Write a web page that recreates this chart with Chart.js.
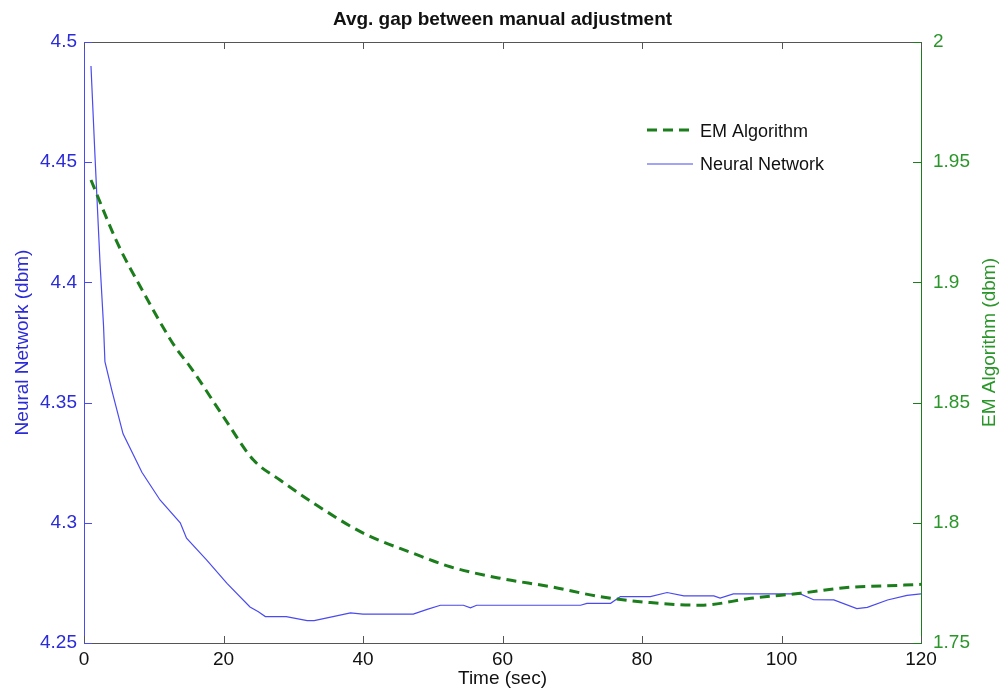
<!DOCTYPE html>
<html>
<head>
<meta charset="utf-8">
<script src="https://cdn.jsdelivr.net/npm/chart.js@4"></script>
<style>
  body { margin: 0; background: #fff; }
  #wrap { width: 1005px; height: 693px; position: relative; }
</style>
</head>
<body>
<div id="wrap"><canvas id="myChart"></canvas></div>
<script>
// values
const emTime = [1, 4.8, 8.6, 11.4, 13.2, 15.2, 20, 24.3, 28.1, 32.9, 40.1, 47.2, 52.5, 59.7, 66.9, 74, 81.2, 88.4, 95.6, 102.7, 109.9, 114.6, 120];
const emValues = [1.9426, 1.9163, 1.8955, 1.881, 1.8726, 1.865, 1.8441, 1.8261, 1.8178, 1.8082, 1.7956, 1.7873, 1.7817, 1.7769, 1.7734, 1.7693, 1.7668, 1.7657, 1.7686, 1.7707, 1.7732, 1.7737, 1.7744];

const nnTime = [1, 1.6, 2.3, 2.8, 3.0, 4, 5.6, 8.3, 10.9, 13.8, 14.7, 17.6, 20.5, 23.8, 25, 26, 29, 32, 33, 35.7, 38.2, 40, 47.2, 49.2, 51.1, 54.4, 55.4, 56.3, 71.2, 72.1, 75.5, 76.9, 81.2, 83.6, 86, 90.3, 91.2, 93.1, 102.7, 104.6, 107.5, 110.8, 112.3, 115.2, 118, 120];
const nnValues = [4.490, 4.451, 4.408, 4.382, 4.367, 4.355, 4.337, 4.321, 4.3095, 4.300, 4.2936, 4.2845, 4.2748, 4.265, 4.263, 4.261, 4.261, 4.2593, 4.2593, 4.261, 4.2625, 4.262, 4.262, 4.264, 4.2657, 4.2657, 4.2646, 4.2657, 4.2657, 4.2665, 4.2665, 4.2693, 4.2693, 4.271, 4.2696, 4.2696, 4.2687, 4.2704, 4.2704, 4.268, 4.2679, 4.2643, 4.2648, 4.2679, 4.2698, 4.2704];

const xTicks = [0, 20, 40, 60, 80, 100, 120];
const leftRange = [4.25, 4.5];
const rightRange = [1.75, 2];

const blue = "#4a4af0";
const blueText = "#2b2bd8";
const green = "#1b7d1b";
const greenText = "#2a962a";
const frame = "#555";

Chart.defaults.font.family = "'Liberation Sans', Arial, sans-serif";
Chart.defaults.font.size = 19;

const fmt = (v) => String(+Number(v).toFixed(2));

// inward tick marks, top frame line, right axis title and the legend
const extras = {
  id: "extras",
  afterDraw(chart) {
    const ctx = chart.ctx;
    const a = chart.chartArea;
    const sx = chart.scales.x, sl = chart.scales.yL, sr = chart.scales.yR;
    ctx.save();
    ctx.lineWidth = 1;
    ctx.strokeStyle = frame;
    ctx.beginPath();
    ctx.moveTo(a.left, a.top + 0.5);
    ctx.lineTo(a.right, a.top + 0.5);
    sx.ticks.forEach((t) => {
      const px = Math.round(sx.getPixelForValue(t.value)) + 0.5;
      ctx.moveTo(px, a.bottom);
      ctx.lineTo(px, a.bottom - 7);
      ctx.moveTo(px, a.top);
      ctx.lineTo(px, a.top + 7);
    });
    ctx.stroke();
    ctx.strokeStyle = blue;
    ctx.beginPath();
    sl.ticks.forEach((t) => {
      const py = Math.round(sl.getPixelForValue(t.value)) + 0.5;
      ctx.moveTo(a.left, py);
      ctx.lineTo(a.left + 8, py);
    });
    ctx.stroke();
    ctx.strokeStyle = green;
    ctx.beginPath();
    sr.ticks.forEach((t) => {
      const py = Math.round(sr.getPixelForValue(t.value)) + 0.5;
      ctx.moveTo(a.right, py);
      ctx.lineTo(a.right - 8, py);
    });
    ctx.stroke();

    // right axis title reads bottom to top
    ctx.translate(chart.width - 15, (a.top + a.bottom) / 2);
    ctx.rotate(-Math.PI / 2);
    ctx.fillStyle = greenText;
    ctx.font = "19px 'Liberation Sans', Arial, sans-serif";
    ctx.textAlign = "center";
    ctx.textBaseline = "middle";
    ctx.fillText("EM Algorithm (dbm)", 0, 0);
    ctx.restore();

    // legend
    ctx.save();
    const lx = a.left + 563, ly = a.top + 88;
    ctx.lineWidth = 3;
    ctx.strokeStyle = green;
    ctx.setLineDash([10, 6]);
    ctx.beginPath();
    ctx.moveTo(lx, ly);
    ctx.lineTo(lx + 46, ly);
    ctx.stroke();
    ctx.setLineDash([]);
    ctx.lineWidth = 1.2;
    ctx.strokeStyle = blue;
    ctx.beginPath();
    ctx.moveTo(lx, ly + 34);
    ctx.lineTo(lx + 46, ly + 34);
    ctx.stroke();
    ctx.fillStyle = "#111";
    ctx.font = "18px 'Liberation Sans', Arial, sans-serif";
    ctx.textBaseline = "middle";
    ctx.fillText("EM Algorithm", lx + 53, ly + 2);
    ctx.fillText("Neural Network", lx + 53, ly + 35);
    ctx.restore();
  },
};

const ctx = document.getElementById("myChart").getContext("2d");
const myChart = new Chart(ctx, {
  type: "line",
  data: {
    datasets: [
      {
        label: "EM Algorithm",
        data: emTime.map((t, i) => ({ x: t, y: emValues[i] })),
        yAxisID: "yR",
        borderColor: green,
        borderWidth: 3,
        borderDash: [10, 6],
        pointRadius: 0,
        cubicInterpolationMode: "monotone",
        fill: false,
      },
      {
        label: "Neural Network",
        data: nnTime.map((t, i) => ({ x: t, y: nnValues[i] })),
        yAxisID: "yL",
        borderColor: blue,
        borderWidth: 1.2,
        pointRadius: 0,
        tension: 0,
        fill: false,
      },
    ],
  },
  options: {
    responsive: true,
    maintainAspectRatio: false,
    animation: false,
    layout: { padding: 0 },
    plugins: {
      legend: { display: false },
      tooltip: { enabled: false },
      title: {
        display: true,
        text: "Avg. gap between manual adjustment",
        color: "#111",
        font: { size: 19, weight: "bold" },
        padding: { top: 8, bottom: 11.2 },
      },
    },
    scales: {
      x: {
        type: "linear",
        min: xTicks[0],
        max: xTicks[xTicks.length - 1],
        afterBuildTicks: (s) => { s.ticks = xTicks.map((v) => ({ value: v })); },
        afterFit: (s) => { s.height = 50; },
        grid: { drawOnChartArea: false, drawTicks: false },
        border: { color: frame, width: 1 },
        ticks: { color: "#111", padding: 5, maxRotation: 0 },
        title: { display: true, text: "Time (sec)", color: "#111", padding: { top: 0, bottom: 2.6 } },
      },
      yL: {
        position: "left",
        min: leftRange[0],
        max: leftRange[1],
        afterFit: (s) => { s.width = 84; },
        grid: { drawOnChartArea: false, drawTicks: false },
        border: { color: blue, width: 1 },
        ticks: { stepSize: 0.05, color: blueText, padding: 7, callback: fmt },
        title: { display: true, text: "Neural Network (dbm)", color: blueText, padding: { top: 11.6, bottom: 0 } },
      },
      yR: {
        position: "right",
        min: rightRange[0],
        max: rightRange[1],
        afterFit: (s) => { s.width = 84; },
        grid: { drawOnChartArea: false, drawTicks: false },
        border: { color: green, width: 1 },
        ticks: { stepSize: 0.05, color: greenText, padding: 12, callback: fmt },
      },
    },
  },
  plugins: [extras],
});
</script>
</body>
</html>
